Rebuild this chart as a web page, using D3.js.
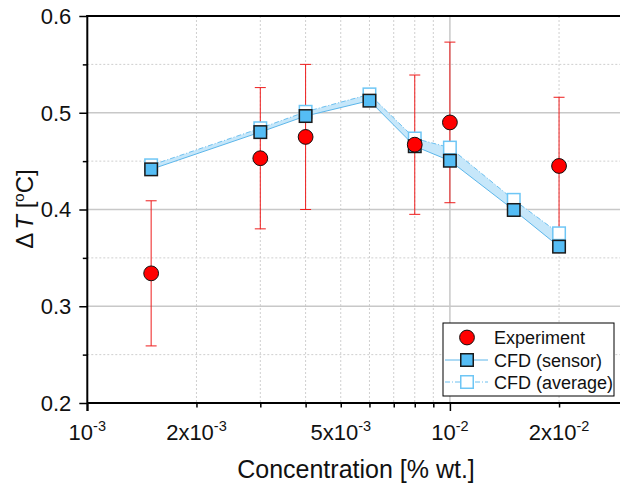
<!DOCTYPE html>
<html>
<head>
<meta charset="utf-8">
<script src="https://cdn.jsdelivr.net/npm/d3@7"></script>
<style>
	body { margin: 0; background: #fff; }
	svg { display: block; font-family: "Liberation Sans", Arial, sans-serif; }
</style>
</head>
<body>
<div id="chart"></div>
<script>

// Experiment
var expConc = [1.5e-3, 3e-3, 4e-3, 8e-3, 1e-2, 2e-2];
var expT = [0.334, 0.453, 0.475, 0.467, 0.490, 0.445];
var expErr = [0.075, 0.073, 0.075, 0.072, 0.083, 0.071];

// CFD
var cfdConc = [1.5e-3, 3e-3, 4e-3, 6e-3, 8e-3, 1e-2, 1.5e-2, 2e-2];
var cfdSensor = [0.4415, 0.480, 0.4966, 0.5125, 0.4654, 0.4504, 0.3995, 0.3616];
var cfdAverage = [0.4457, 0.484, 0.501, 0.519, 0.4734, 0.464, 0.410, 0.3754];

// Tick labels
var xTickVals = [1e-3, 2e-3, 5e-3, 1e-2, 2e-2];
var xTickMant = ["", "2x", "5x", "", "2x"];
var xTickExp = ["-3", "-3", "-3", "-2", "-2"];
var yTickVals = [0.2, 0.3, 0.4, 0.5, 0.6];
var yMinorVals = [0.25, 0.35, 0.45, 0.55];

var legendNames = ["Experiment", "CFD (sensor)", "CFD (average)"];

///////////////////////////////////////////////////////////////////////////
//////////////////////////// Set up svg and scales /////////////////////////
///////////////////////////////////////////////////////////////////////////

var svgW = 620,
	svgH = 485;
var margin = { left: 87.3, top: 16, bottom: 82 };
var decade = 362.6;

var svg = d3.select("#chart")
	.append("svg")
	.attr("width", svgW)
	.attr("height", svgH);

var x = d3.scaleLog()
	.domain([1e-3, 3e-2])
	.range([margin.left, margin.left + decade * Math.log10(30)]);

var y = d3.scaleLinear()
	.domain([0.2, 0.6])
	.range([svgH - margin.bottom, margin.top]);

var x0 = x.range()[0],
	yB = y.range()[0],
	yT = y.range()[1];

///////////////////////////////////////////////////////////////////////////
/////////////////////////////////// Grid ///////////////////////////////////
///////////////////////////////////////////////////////////////////////////

var isDecade = function(v) {
	return Math.abs(Math.log10(v) - Math.round(Math.log10(v))) < 1e-9;
};

var grid = svg.append("g").attr("class", "grid");

grid.selectAll(".vgrid")
	.data(x.ticks().filter(function(d) { return d > 1e-3; }))
	.enter().append("line")
	.attr("x1", function(d) { return x(d); })
	.attr("x2", function(d) { return x(d); })
	.attr("y1", yT)
	.attr("y2", yB)
	.attr("stroke", function(d) { return isDecade(d) ? "#c8c8c8" : "#cfcfcf"; })
	.attr("stroke-width", function(d) { return isDecade(d) ? 1.5 : 1; })
	.attr("stroke-dasharray", function(d) { return isDecade(d) ? null : "2,2"; });

grid.selectAll(".hmajor")
	.data(yTickVals.slice(1, -1))
	.enter().append("line")
	.attr("x1", x0)
	.attr("x2", svgW)
	.attr("y1", function(d) { return y(d); })
	.attr("y2", function(d) { return y(d); })
	.attr("stroke", "#c8c8c8")
	.attr("stroke-width", 1.5);

grid.selectAll(".hminor")
	.data(yMinorVals)
	.enter().append("line")
	.attr("x1", x0)
	.attr("x2", svgW)
	.attr("y1", function(d) { return y(d); })
	.attr("y2", function(d) { return y(d); })
	.attr("stroke", "#cfcfcf")
	.attr("stroke-dasharray", "2,2");

///////////////////////////////////////////////////////////////////////////
/////////////////////////////////// CFD band ///////////////////////////////
///////////////////////////////////////////////////////////////////////////

var cfd = cfdConc.map(function(c, i) {
	return { c: c, s: cfdSensor[i], a: cfdAverage[i] };
});

svg.append("path")
	.datum(cfd)
	.attr("fill", "#c6e7fa")
	.attr("d", d3.area()
		.x(function(d) { return x(d.c); })
		.y0(function(d) { return y(d.s); })
		.y1(function(d) { return y(d.a); }));

svg.append("path")
	.datum(cfd)
	.attr("fill", "none")
	.attr("stroke", "#5cb6ea")
	.attr("stroke-width", 1)
	.attr("d", d3.line()
		.x(function(d) { return x(d.c); })
		.y(function(d) { return y(d.s); }));

svg.append("path")
	.datum(cfd)
	.attr("fill", "none")
	.attr("stroke", "#6cc0f0")
	.attr("stroke-width", 1)
	.attr("stroke-dasharray", "5,2,1,2")
	.attr("d", d3.line()
		.x(function(d) { return x(d.c); })
		.y(function(d) { return y(d.a); }));

///////////////////////////////////////////////////////////////////////////
///////////////////////////////// Error bars ///////////////////////////////
///////////////////////////////////////////////////////////////////////////

var exp = expConc.map(function(c, i) {
	return { c: c, t: expT[i], e: expErr[i] };
});

var err = svg.append("g")
	.attr("stroke", "#ee1c1c")
	.attr("stroke-width", 1);

err.selectAll(".bar")
	.data(exp)
	.enter().append("line")
	.attr("x1", function(d) { return x(d.c); })
	.attr("x2", function(d) { return x(d.c); })
	.attr("y1", function(d) { return y(d.t - d.e); })
	.attr("y2", function(d) { return y(d.t + d.e); });

err.selectAll(".capTop")
	.data(exp)
	.enter().append("line")
	.attr("x1", function(d) { return x(d.c) - 5.5; })
	.attr("x2", function(d) { return x(d.c) + 5.5; })
	.attr("y1", function(d) { return y(d.t + d.e); })
	.attr("y2", function(d) { return y(d.t + d.e); });

err.selectAll(".capBot")
	.data(exp)
	.enter().append("line")
	.attr("x1", function(d) { return x(d.c) - 5.5; })
	.attr("x2", function(d) { return x(d.c) + 5.5; })
	.attr("y1", function(d) { return y(d.t - d.e); })
	.attr("y2", function(d) { return y(d.t - d.e); });

///////////////////////////////////////////////////////////////////////////
/////////////////////////////////// Markers ////////////////////////////////
///////////////////////////////////////////////////////////////////////////

var sq = 12.5;

svg.selectAll(".avg")
	.data(cfd)
	.enter().append("rect")
	.attr("x", function(d) { return x(d.c) - sq / 2; })
	.attr("y", function(d) { return y(d.a) - sq / 2; })
	.attr("width", sq)
	.attr("height", sq)
	.attr("fill", "#fff")
	.attr("stroke", "#6ec6f5")
	.attr("stroke-width", 1.5);

svg.selectAll(".sensor")
	.data(cfd)
	.enter().append("rect")
	.attr("x", function(d) { return x(d.c) - sq / 2; })
	.attr("y", function(d) { return y(d.s) - sq / 2; })
	.attr("width", sq)
	.attr("height", sq)
	.attr("fill", "#55bdf5")
	.attr("stroke", "#1a1a1a")
	.attr("stroke-width", 1.5);

svg.selectAll(".exp")
	.data(exp)
	.enter().append("circle")
	.attr("cx", function(d) { return x(d.c); })
	.attr("cy", function(d) { return y(d.t); })
	.attr("r", 7.4)
	.attr("fill", "#ff0000")
	.attr("stroke", "#111")
	.attr("stroke-width", 1);

///////////////////////////////////////////////////////////////////////////
//////////////////////////////////// Axes //////////////////////////////////
///////////////////////////////////////////////////////////////////////////

var gX = svg.append("g")
	.attr("transform", "translate(0," + yB + ")")
	.call(d3.axisBottom(x)
		.tickValues(x.ticks().filter(function(d) { return d < 3e-2; }))
		.tickFormat("")
		.tickSizeOuter(0));
gX.select(".domain").remove();
gX.selectAll(".tick line")
	.attr("stroke", "#000")
	.attr("stroke-width", 1.5)
	.attr("y2", function(d) { return isDecade(d) ? 8 : 4.5; });

var gY = svg.append("g")
	.attr("transform", "translate(" + x0 + ",0)")
	.call(d3.axisLeft(y)
		.tickValues(yTickVals.concat(yMinorVals))
		.tickFormat("")
		.tickSizeOuter(0));
gY.select(".domain").remove();
gY.selectAll(".tick line")
	.attr("stroke", "#000")
	.attr("stroke-width", 1.5)
	.attr("x2", function(d) { return yMinorVals.indexOf(d) >= 0 ? -4.5 : -8; });

// frame lines
svg.append("line")
	.attr("x1", x0).attr("x2", svgW)
	.attr("y1", yB).attr("y2", yB)
	.attr("stroke", "#000").attr("stroke-width", 2);
svg.append("line")
	.attr("x1", x0 - 1).attr("x2", svgW)
	.attr("y1", yT).attr("y2", yT)
	.attr("stroke", "#000").attr("stroke-width", 2);
svg.append("line")
	.attr("x1", x0).attr("x2", x0)
	.attr("y1", yT - 1).attr("y2", yB + 8)
	.attr("stroke", "#000").attr("stroke-width", 2);

// x tick labels with powers of ten
xTickVals.forEach(function(v, i) {
	var t = svg.append("text")
		.attr("x", x(v))
		.attr("y", yB + 37)
		.attr("text-anchor", "middle")
		.attr("font-size", 22)
		.attr("fill", "#111");
	t.append("tspan").text(xTickMant[i] + "10");
	t.append("tspan")
		.attr("dy", -9.5)
		.attr("font-size", 14.5)
		.text(xTickExp[i]);
});

svg.selectAll(".ylab")
	.data(yTickVals)
	.enter().append("text")
	.attr("x", x0 - 16)
	.attr("y", function(d) { return y(d) + 7.8; })
	.attr("text-anchor", "end")
	.attr("font-size", 22)
	.attr("fill", "#111")
	.text(d3.format(".1f"));

// axis titles
svg.append("text")
	.attr("x", 356)
	.attr("y", 478)
	.attr("text-anchor", "middle")
	.attr("font-size", 25)
	.attr("fill", "#111")
	.text("Concentration [% wt.]");

var yt = svg.append("text")
	.attr("transform", "translate(33,209) rotate(-90)")
	.attr("text-anchor", "middle")
	.attr("font-size", 24)
	.attr("fill", "#111");
yt.append("tspan").text("\u0394");
yt.append("tspan").attr("dx", 3).attr("font-style", "italic").text("T");
yt.append("tspan").text(" [");
yt.append("tspan").attr("dy", -9).attr("font-size", 15).text("o");
yt.append("tspan").attr("dy", 9).text("C]");

///////////////////////////////////////////////////////////////////////////
/////////////////////////////////// Legend /////////////////////////////////
///////////////////////////////////////////////////////////////////////////

var legend = svg.append("g")
	.attr("transform", "translate(443,323)");

legend.append("rect")
	.attr("width", 171)
	.attr("height", 73)
	.attr("fill", "#fff")
	.attr("stroke", "#000")
	.attr("stroke-width", 1);

var rowY = [14.5, 37, 59];

legend.append("circle")
	.attr("cx", 24).attr("cy", rowY[0])
	.attr("r", 7.4)
	.attr("fill", "#ff0000")
	.attr("stroke", "#111");

legend.append("line")
	.attr("x1", 2).attr("x2", 45)
	.attr("y1", rowY[1]).attr("y2", rowY[1])
	.attr("stroke", "#5cb6ea");
legend.append("rect")
	.attr("x", 24 - sq / 2).attr("y", rowY[1] - sq / 2)
	.attr("width", sq).attr("height", sq)
	.attr("fill", "#55bdf5")
	.attr("stroke", "#1a1a1a")
	.attr("stroke-width", 1.5);

legend.append("line")
	.attr("x1", 2).attr("x2", 45)
	.attr("y1", rowY[2]).attr("y2", rowY[2])
	.attr("stroke", "#6cc0f0")
	.attr("stroke-dasharray", "5,2,1,2");
legend.append("rect")
	.attr("x", 24 - sq / 2).attr("y", rowY[2] - sq / 2)
	.attr("width", sq).attr("height", sq)
	.attr("fill", "#fff")
	.attr("stroke", "#6ec6f5")
	.attr("stroke-width", 1.5);

legend.selectAll(".ltext")
	.data(legendNames)
	.enter().append("text")
	.attr("x", 51)
	.attr("y", function(d, i) { return rowY[i] + 6.5; })
	.attr("font-size", 18)
	.attr("fill", "#111")
	.text(function(d) { return d; });

</script>
</body>
</html>
